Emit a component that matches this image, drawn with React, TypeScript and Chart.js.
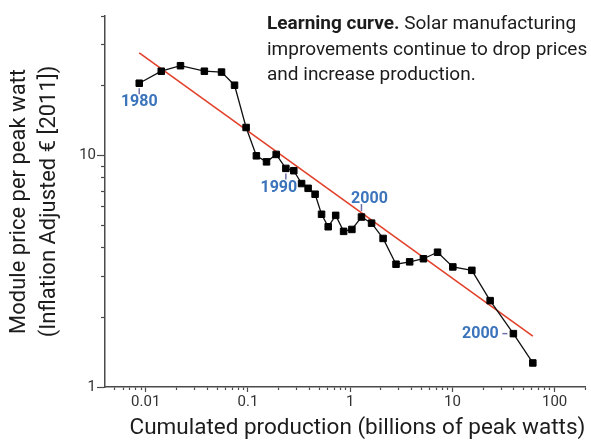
import React, { useEffect, useRef } from 'react';
import { Chart, registerables } from 'chart.js';

Chart.register(...registerables);

// ---- Data ----
const cumulatedProduction = [
  0.00865, 0.0142, 0.0219, 0.0375, 0.0552, 0.074, 0.096, 0.121, 0.152, 0.189,
  0.235, 0.281, 0.335, 0.388, 0.454, 0.525, 0.61, 0.722, 0.863, 1.04,
  1.29, 1.62, 2.1, 2.81, 3.82, 5.21, 7.16, 10.1, 15.5, 23.4,
  39.5, 61.2,
];
const modulePrice = [
  20.5, 23.1, 24.4, 23.1, 22.9, 20.1, 13.2, 9.96, 9.38, 10.1,
  8.79, 8.59, 7.56, 7.21, 6.8, 5.57, 4.92, 5.51, 4.7, 4.79,
  5.42, 5.1, 4.38, 3.39, 3.47, 3.58, 3.82, 3.3, 3.19, 2.36,
  1.7, 1.27,
];
const fitProduction = [0.00865, 61.2];
const fitPrice = [27.7, 1.66];

const annotationIndex = [0, 10, 20, 30];
const annotationText = ['1980', '1990', '2000', '2000'];

const xRange = [0.004, 200];
const yRange = [1, 40];
const xMajorTicks = [0.01, 0.1, 1, 10, 100];
const xTickLabels = ['0.01', '0.1', '1', '10', '100'];
const xDecades = [0.001, 0.01, 0.1, 1, 10, 100];
const yMajorTicks = [1, 10];
const yTickLabels = ['1', '10'];
const yDecades = [1, 10];
const minorMultipliers = [2, 3, 4, 5, 6, 7, 8, 9];

// ---- Styles ----
const FONT = 'Roboto, "Open Sans", sans-serif';
const axisColor = '#4a4a4a';
const tickLabelColor = '#333333';
const titleColor = '#1c1c1c';
const lineRed = '#e2412b';
const labelBlue = '#3b74bb';
const dashColor = '#6f6fa8';

// label placement relative to point: dash [x1,y1,x2,y2], label offset
const annotationStyle = [
  { dash: [0, 5, 0, 11], dx: 0, dy: 19 },
  { dash: [0, 5, 0, 11], dx: -7, dy: 20 },
  { dash: [0, -6, 0, -13], dx: 8, dy: -18.5 },
  { dash: [-6, 0, -11, 0], dx: -33, dy: 0 },
];

const near = (a: number, b: number) => Math.abs(Math.log10(a) - Math.log10(b)) < 1e-6;

function buildTicks(majors: number[], decades: number[], range: number[]) {
  const minors: number[] = [];
  decades.forEach((d) => minorMultipliers.forEach((m) => minors.push(d * m)));
  const keptMinors = minors.filter((v) => v > range[0] * 1.0001 && v <= range[1] * 1.0001);
  const keptMajors = majors.filter((v) => v >= range[0] * 0.9999 && v <= range[1] * 1.0001);
  return [...keptMajors, ...keptMinors].sort((a, b) => a - b);
}

const yearLabelsPlugin = {
  id: 'yearLabels',
  afterDatasetsDraw(chart: any) {
    const { ctx, scales } = chart;
    const xs = scales.x;
    const ys = scales.y;
    annotationIndex.forEach((idx, k) => {
      const px = xs.getPixelForValue(cumulatedProduction[idx]);
      const py = ys.getPixelForValue(modulePrice[idx]);
      const s = annotationStyle[k];
      ctx.save();
      ctx.strokeStyle = dashColor;
      ctx.lineWidth = 1.5;
      ctx.beginPath();
      ctx.moveTo(px + s.dash[0], py + s.dash[1]);
      ctx.lineTo(px + s.dash[2], py + s.dash[3]);
      ctx.stroke();
      ctx.fillStyle = labelBlue;
      ctx.font = `bold 16px ${FONT}`;
      ctx.textAlign = 'center';
      ctx.textBaseline = 'middle';
      ctx.fillText(annotationText[k], px + s.dx, py + s.dy);
      ctx.restore();
    });
  },
};

export default function App() {
  const canvasRef = useRef<HTMLCanvasElement | null>(null);

  useEffect(() => {
    if (!canvasRef.current) return;
    const xTicks = buildTicks(xMajorTicks, xDecades, xRange);
    const yTicks = buildTicks(yMajorTicks, yDecades, yRange);
    const isXMajor = (v: number) => xMajorTicks.some((m) => near(m, v));
    const isYMajor = (v: number) => yMajorTicks.some((m) => near(m, v));

    const chart = new Chart(canvasRef.current, {
      type: 'scatter',
      data: {
        datasets: [
          {
            label: 'Module price',
            data: cumulatedProduction.map((x, i) => ({ x, y: modulePrice[i] })),
            showLine: true,
            borderColor: '#111111',
            borderWidth: 1.3,
            pointStyle: 'rect',
            pointRadius: 4.6,
            pointBackgroundColor: '#000000',
            pointBorderColor: '#000000',
            pointBorderWidth: 1,
            order: 1,
          },
          {
            label: 'Fit',
            data: fitProduction.map((x, i) => ({ x, y: fitPrice[i] })),
            showLine: true,
            borderColor: lineRed,
            borderWidth: 1.6,
            pointRadius: 0,
            order: 2,
          },
        ],
      },
      options: {
        responsive: false,
        animation: false,
        layout: { padding: { top: 16, left: 0, right: 0, bottom: 0 } },
        plugins: {
          legend: { display: false },
          tooltip: { enabled: false },
        },
        scales: {
          x: {
            type: 'logarithmic',
            min: xRange[0],
            max: xRange[1],
            afterBuildTicks: (scale: any) => {
              scale.ticks = xTicks.map((v) => ({ value: v }));
            },
            afterFit: (scale: any) => {
              scale.height = 54;
            },
            ticks: {
              autoSkip: false,
              maxRotation: 0,
              padding: 1,
              color: tickLabelColor,
              font: { family: FONT, size: 15 },
              callback: (v: any) => {
                const i = xMajorTicks.findIndex((m) => near(m, Number(v)));
                return i >= 0 ? xTickLabels[i] : '';
              },
            },
            grid: {
              drawOnChartArea: false,
              drawTicks: true,
              tickLength: 5,
              tickColor: axisColor,
              tickWidth: 1.2,
              tickBorderDash: (c: any) => (isXMajor(c.tick.value) ? [] : [2.5, 10]),
              tickBorderDashOffset: 0,
            },
            border: { display: true, color: axisColor, width: 1.5 },
            title: {
              display: true,
              text: 'Cumulated production (billions of peak watts)',
              color: titleColor,
              align: 'end',
              font: { family: FONT, size: 22.5, lineHeight: 1.1 },
              padding: { top: 0, bottom: 0 },
            },
          },
          y: {
            type: 'logarithmic',
            min: yRange[0],
            max: yRange[1],
            afterBuildTicks: (scale: any) => {
              scale.ticks = yTicks.map((v) => ({ value: v }));
            },
            afterFit: (scale: any) => {
              scale.width = 105;
            },
            ticks: {
              autoSkip: false,
              padding: 1,
              color: tickLabelColor,
              font: { family: FONT, size: 15 },
              callback: (v: any) => {
                const i = yMajorTicks.findIndex((m) => near(m, Number(v)));
                return i >= 0 ? yTickLabels[i] : '';
              },
            },
            grid: {
              drawOnChartArea: false,
              drawTicks: true,
              tickLength: 8,
              tickColor: axisColor,
              tickWidth: 1.2,
              tickBorderDash: (c: any) => (isYMajor(c.tick.value) ? [] : [4, 4]),
              tickBorderDashOffset: (c: any) => (isYMajor(c.tick.value) ? 0 : 4),
            },
            border: { display: true, color: axisColor, width: 1.5 },
            title: {
              display: true,
              text: ['Module price per peak watt', '(Inflation Adjusted € [2011])'],
              color: titleColor,
              font: { family: FONT, size: 22, lineHeight: 1.34 },
              padding: { top: 5, bottom: 0 },
            },
          },
        },
      },
      plugins: [yearLabelsPlugin],
    } as any);
    return () => chart.destroy();
  }, []);

  return (
    <div style={{ position: 'fixed', left: 0, top: 0, width: 591, height: 441, background: '#ffffff', overflow: 'hidden' }}>
      <canvas ref={canvasRef} width={591} height={441} style={{ position: 'absolute', left: 0, top: 0, width: 591, height: 441 }} />
      <div
        style={{
          position: 'absolute',
          left: 267,
          top: 10,
          width: 324,
          overflow: 'hidden',
          whiteSpace: 'nowrap',
          fontFamily: FONT,
          fontSize: 19,
          lineHeight: '25.7px',
          color: titleColor,
        }}
      >
        <div><b>Learning curve.</b> Solar manufacturing</div>
        <div>improvements continue to drop prices</div>
        <div>and increase production.</div>
      </div>
    </div>
  );
}
